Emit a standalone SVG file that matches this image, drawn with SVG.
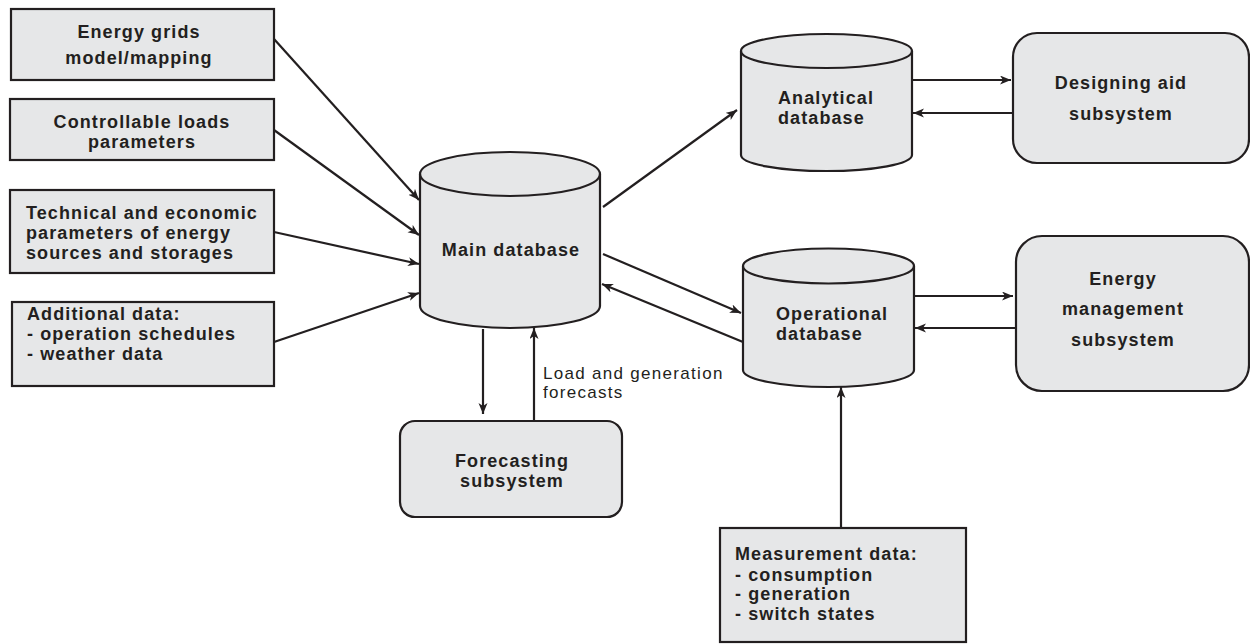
<svg xmlns="http://www.w3.org/2000/svg" width="1250" height="644" viewBox="0 0 1250 644">
<defs>
<marker id="ah" markerUnits="userSpaceOnUse" markerWidth="13" markerHeight="10" refX="11" refY="4.5" orient="auto">
<path d="M0,0 L11,4.5 L0,9 L3,4.5 Z" fill="#231f20"/>
</marker>
<style>
.box{fill:#e6e7e8;stroke:#231f20;stroke-width:2.2}
.b{font-family:"Liberation Sans",Arial,sans-serif;font-weight:bold;font-size:18px;letter-spacing:1.1px;fill:#231f20}
.n{font-family:"Liberation Sans",Arial,sans-serif;font-size:17px;letter-spacing:1.3px;fill:#231f20}
.m{text-anchor:middle}
.c{fill:none;stroke:#231f20;stroke-width:2.2;marker-end:url(#ah)}
</style>
</defs>
<rect width="1250" height="644" fill="#fff"/>

<g id="energy-grids">
<rect class="box" x="11" y="9" width="263" height="71"/>
<text class="b m" x="139" y="38">Energy grids</text>
<text class="b m" x="139" y="64">model/mapping</text>
</g>
<g id="controllable-loads">
<rect class="box" x="10" y="99" width="264" height="61"/>
<text class="b m" x="142" y="128">Controllable loads</text>
<text class="b m" x="142" y="148">parameters</text>
</g>
<g id="technical">
<rect class="box" x="10" y="190" width="264" height="83"/>
<text class="b" x="26" y="219">Technical and economic</text>
<text class="b" x="26" y="239">parameters of energy</text>
<text class="b" x="26" y="259">sources and storages</text>
</g>
<g id="additional">
<rect class="box" x="12" y="302" width="262" height="84"/>
<text class="b" x="27" y="320">Additional data:</text>
<text class="b" x="27" y="340">- operation schedules</text>
<text class="b" x="27" y="360">- weather data</text>
</g>

<g id="main-db">
<path class="box" d="M420,174 L420,306 A90,22 0 0 0 600,306 L600,174 A90,22 0 0 0 420,174 Z"/>
<path d="M420,174 A90,22 0 0 0 600,174" fill="none" stroke="#231f20" stroke-width="2.2"/>
<text class="b m" x="511" y="256">Main database</text>
</g>

<g id="analytical-db">
<path class="box" d="M741,51 L741,155 A85.5,16 0 0 0 912,155 L912,51 A85.5,17 0 0 0 741,51 Z"/>
<path d="M741,51 A85.5,17 0 0 0 912,51" fill="none" stroke="#231f20" stroke-width="2.2"/>
<text class="b" x="778" y="104">Analytical</text>
<text class="b" x="778" y="124">database</text>
</g>

<g id="operational-db">
<path class="box" d="M743,266 L743,370 A85.5,17 0 0 0 914,370 L914,266 A85.5,17.5 0 0 0 743,266 Z"/>
<path d="M743,266 A85.5,17.5 0 0 0 914,266" fill="none" stroke="#231f20" stroke-width="2.2"/>
<text class="b" x="776" y="320">Operational</text>
<text class="b" x="776" y="340">database</text>
</g>

<g id="designing-aid">
<rect class="box" x="1013" y="33" width="236" height="130" rx="24" ry="24"/>
<text class="b m" x="1121" y="89">Designing aid</text>
<text class="b m" x="1121" y="120">subsystem</text>
</g>

<g id="energy-management">
<rect class="box" x="1016" y="236" width="233" height="155" rx="26" ry="26"/>
<text class="b m" x="1123" y="285">Energy</text>
<text class="b m" x="1123" y="315">management</text>
<text class="b m" x="1123" y="346">subsystem</text>
</g>

<g id="forecasting">
<rect class="box" x="400" y="421" width="222" height="96" rx="15" ry="15"/>
<text class="b m" x="512" y="467">Forecasting</text>
<text class="b m" x="512" y="487">subsystem</text>
</g>

<g id="measurement">
<rect class="box" x="720" y="528" width="246" height="114"/>
<text class="b" x="735" y="560">Measurement data:</text>
<text class="b" x="735" y="581">- consumption</text>
<text class="b" x="735" y="600">- generation</text>
<text class="b" x="735" y="620">- switch states</text>
</g>

<g id="connectors">
<line class="c" x1="274" y1="39" x2="419" y2="200"/>
<line class="c" x1="274" y1="130" x2="419" y2="235"/>
<line class="c" x1="274" y1="232" x2="419" y2="264"/>
<line class="c" x1="274" y1="342" x2="419" y2="293"/>
<line class="c" x1="603" y1="207" x2="737" y2="110"/>
<line class="c" x1="603" y1="254" x2="741" y2="313"/>
<line class="c" x1="743" y1="342" x2="602" y2="284"/>
<line class="c" x1="483" y1="329" x2="483" y2="414"/>
<line class="c" x1="534" y1="421" x2="534" y2="328"/>
<line class="c" x1="912" y1="80" x2="1011" y2="80"/>
<line class="c" x1="1013" y1="113" x2="913" y2="113"/>
<line class="c" x1="914" y1="296" x2="1013" y2="296"/>
<line class="c" x1="1016" y1="328" x2="915" y2="328"/>
<line class="c" x1="841" y1="528" x2="841" y2="387"/>
<text class="n" x="543" y="379">Load and generation</text>
<text class="n" x="543" y="398">forecasts</text>
</g>
</svg>
